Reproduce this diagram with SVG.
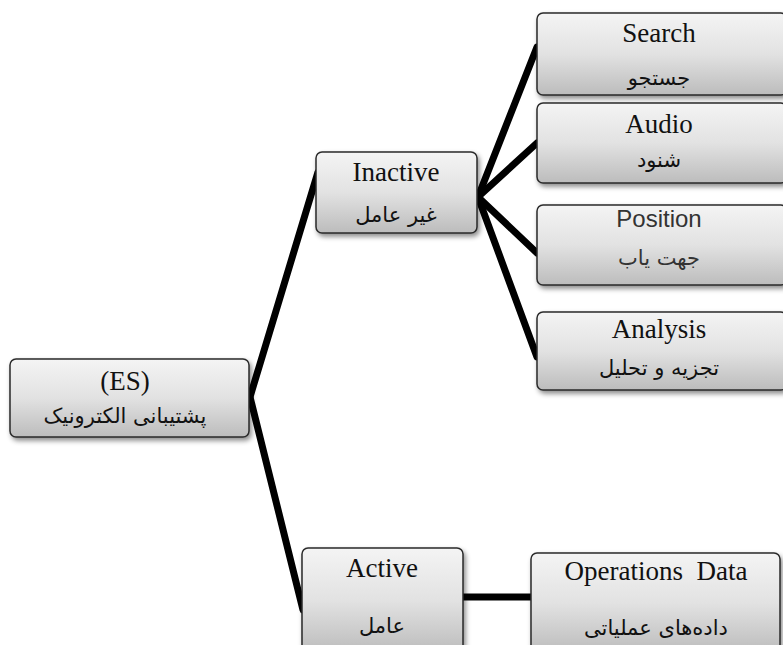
<svg xmlns="http://www.w3.org/2000/svg" width="783" height="645" viewBox="0 0 783 645">
<defs>
<linearGradient id="g" x1="0" y1="0" x2="0" y2="1">
<stop offset="0" stop-color="#f4f4f4"/>
<stop offset="0.5" stop-color="#e2e2e2"/>
<stop offset="1" stop-color="#bcbcbc"/>
</linearGradient>
<filter id="sh" x="-10%" y="-10%" width="130%" height="140%">
<feDropShadow dx="2" dy="3" stdDeviation="2.5" flood-color="#000" flood-opacity="0.45"/>
</filter>
</defs>
<style>
.box{fill:url(#g);stroke:#2a2a2a;stroke-width:1.5;filter:url(#sh)}
.en{font-family:"Liberation Serif","Times New Roman",serif;font-size:27px;fill:#111;text-anchor:middle}
.fa{font-family:"DejaVu Sans","Noto Sans",sans-serif;font-size:21px;fill:#111;text-anchor:middle}
.con path{stroke:#000;stroke-width:7;fill:none;stroke-linecap:round}
</style>
<rect width="783" height="645" fill="#fff"/>
<g class="con" id="connectors">
<path d="M250,397 L318,172"/>
<path d="M250,397 L303,610"/>
<path d="M478,197 L537,47"/>
<path d="M478,197 L537,143"/>
<path d="M478,197 L537,253"/>
<path d="M478,197 L537,357"/>
<path d="M463,597 L531,597"/>
</g>
<g id="es">
<rect class="box" x="10" y="359" width="239" height="78" rx="6"/>
<text class="en" x="125" y="390">(ES)</text>
<text class="fa" x="125" y="423" direction="rtl">پشتیبانی الکترونیک</text>
</g>
<g id="inactive">
<rect class="box" x="316" y="152" width="161" height="81" rx="6"/>
<text class="en" x="396" y="181">Inactive</text>
<text class="fa" x="396" y="222" direction="rtl">غیر عامل</text>
</g>
<g id="search">
<rect class="box" x="537" y="13" width="250" height="82" rx="6"/>
<text class="en" x="659" y="42">Search</text>
<text class="fa" x="659" y="85" direction="rtl">جستجو</text>
</g>
<g id="audio">
<rect class="box" x="537" y="103" width="250" height="80" rx="6"/>
<text class="en" x="659" y="133">Audio</text>
<text class="fa" x="659" y="167" direction="rtl">شنود</text>
</g>
<g id="position">
<rect class="box" x="537" y="205" width="250" height="80" rx="6"/>
<text class="en" x="659" y="227" style="font-family:'Liberation Sans',Arial,sans-serif;font-size:24px;fill:#333">Position</text>
<text class="fa" x="659" y="265" direction="rtl" style="fill:#333">جهت یاب</text>
</g>
<g id="analysis">
<rect class="box" x="537" y="312" width="250" height="78" rx="6"/>
<text class="en" x="659" y="338">Analysis</text>
<text class="fa" x="659" y="375" direction="rtl">تجزیه و تحلیل</text>
</g>
<g id="active">
<rect class="box" x="302" y="548" width="161" height="105" rx="6"/>
<text class="en" x="382" y="577">Active</text>
<text class="fa" x="382" y="633" direction="rtl">عامل</text>
</g>
<g id="operations">
<rect class="box" x="531" y="553" width="249" height="100" rx="6"/>
<text class="en" x="656" y="580" xml:space="preserve">Operations  Data</text>
<text class="fa" x="656" y="635" direction="rtl">داده‌های عملیاتی</text>
</g>
</svg>
